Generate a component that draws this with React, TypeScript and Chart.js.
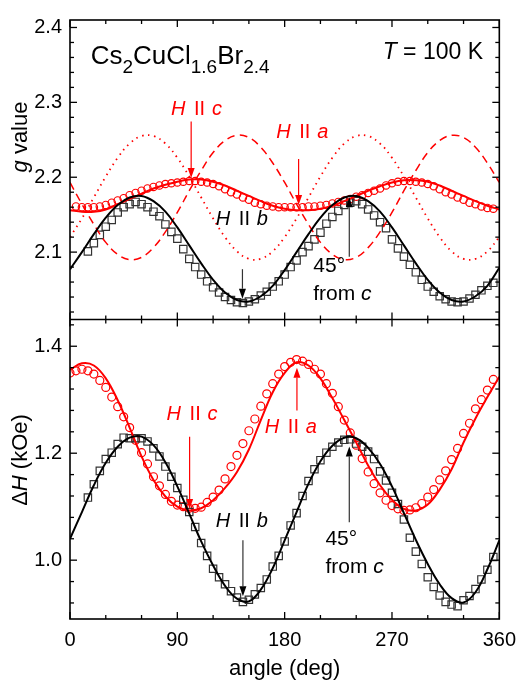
import React, { useEffect, useRef } from 'react';
import { Chart, registerables } from 'chart.js';

Chart.register(...registerables);

const FONT = "'Liberation Sans', Arial, sans-serif";

// ---------- angles (deg) ----------
const lineAngles = [0, 10, 20, 30, 40, 50, 60, 70, 80, 90, 100, 110, 120, 130, 140, 150, 160, 170, 180,
  190, 200, 210, 220, 230, 240, 250, 260, 270, 280, 290, 300, 310, 320, 330, 340, 350, 360];

const squareAngles = [15, 20, 25, 30, 35, 40, 45, 50, 55, 60, 65, 70, 75, 80, 85, 90, 95, 100,
  105, 110, 115, 120, 125, 130, 135, 140, 145, 150, 155, 160, 165, 170, 175, 180, 185, 190, 195, 200,
  205, 210, 215, 220, 225, 230, 235, 240, 245, 250, 255, 260, 265, 270, 275, 280, 285, 290, 295, 300,
  305, 310, 315, 320, 325, 330, 335, 340, 345, 350, 355];

const circleAnglesTop = [5, 10, 15, 20, 25, 30, 35, 40, 45, 50, 55, 60, 65, 70, 75, 80, 85, 90, 95, 100, 105,
  110, 115, 120, 125, 130, 135, 140, 145, 150, 155, 160, 165, 170, 175, 180, 185, 190, 195, 200, 205,
  210, 215, 220, 225, 230, 235, 240, 245, 250, 255, 260, 265, 270, 275, 280, 285, 290, 295, 300, 305,
  310, 315, 320, 325, 330, 335, 340, 345, 350, 355];

const circleAnglesBottom = [0, 5, 10, 15, 20, 25, 30, 35, 40, 45, 50, 55, 60, 65, 70, 75, 80, 85, 90, 95, 100, 105,
  110, 115, 120, 125, 130, 135, 140, 145, 150, 155, 160, 165, 170, 175, 180, 185, 190, 195, 200, 205,
  210, 215, 220, 225, 230, 235, 240, 245, 250, 255, 260, 265, 270, 275, 280, 285, 290, 295, 300, 305,
  310, 315, 320, 325, 330, 335, 340, 345, 350, 355];

// ---------- g value panel ----------
const gLineBlack = [2.077, 2.100, 2.124, 2.146, 2.163, 2.173, 2.175, 2.168, 2.154, 2.133, 2.109, 2.085,
  2.063, 2.046, 2.036, 2.034, 2.041, 2.055, 2.076, 2.100, 2.124, 2.146, 2.163, 2.173, 2.175, 2.168,
  2.154, 2.133, 2.109, 2.085, 2.063, 2.046, 2.036, 2.034, 2.041, 2.055, 2.079];

const gLineRed = [2.156, 2.154, 2.154, 2.157, 2.164, 2.171, 2.178, 2.185, 2.190, 2.194, 2.197, 2.197,
  2.194, 2.189, 2.182, 2.175, 2.168, 2.162, 2.158, 2.156, 2.156, 2.158, 2.162, 2.168, 2.175, 2.182,
  2.188, 2.193, 2.196, 2.196, 2.194, 2.189, 2.182, 2.175, 2.168, 2.162, 2.157];

const gDashedRed = [2.193, 2.164, 2.137, 2.113, 2.097, 2.090, 2.093, 2.106, 2.127, 2.153, 2.182, 2.209,
  2.233, 2.249, 2.256, 2.253, 2.240, 2.219, 2.193, 2.164, 2.137, 2.113, 2.097, 2.090, 2.093, 2.106,
  2.127, 2.153, 2.182, 2.209, 2.233, 2.249, 2.256, 2.253, 2.240, 2.219, 2.193];

const gDottedRed = [2.120, 2.145, 2.173, 2.201, 2.226, 2.245, 2.255, 2.255, 2.245, 2.226, 2.201, 2.173,
  2.145, 2.120, 2.101, 2.091, 2.091, 2.101, 2.120, 2.145, 2.173, 2.201, 2.226, 2.245, 2.255, 2.255,
  2.245, 2.226, 2.201, 2.173, 2.145, 2.120, 2.101, 2.091, 2.091, 2.101, 2.120];

const gSquares = [2.101, 2.112, 2.123, 2.134, 2.143, 2.153, 2.160, 2.164, 2.167, 2.164, 2.160, 2.154,
  2.148, 2.137, 2.127, 2.118, 2.104, 2.091,
  2.080, 2.070, 2.061, 2.053, 2.046, 2.040, 2.036, 2.033, 2.032, 2.034, 2.037, 2.042, 2.047, 2.054,
  2.061, 2.070, 2.080, 2.089, 2.100, 2.108,
  2.117, 2.126, 2.138, 2.147, 2.155, 2.163, 2.166, 2.168, 2.164, 2.157, 2.149, 2.140, 2.132, 2.117,
  2.105, 2.094, 2.083, 2.073, 2.063, 2.054,
  2.047, 2.041, 2.037, 2.034, 2.033, 2.034, 2.038, 2.043, 2.049, 2.055, 2.059];

const gCircles = [2.161, 2.160, 2.160, 2.160, 2.161, 2.163, 2.166, 2.169, 2.172, 2.176, 2.179, 2.182,
  2.185, 2.187, 2.189, 2.191, 2.192, 2.193, 2.194, 2.195, 2.195,
  2.194, 2.193, 2.191, 2.188, 2.184, 2.180, 2.177, 2.173, 2.170, 2.166, 2.164, 2.162, 2.161, 2.160,
  2.160, 2.160, 2.160, 2.160, 2.161, 2.161,
  2.162, 2.163, 2.165, 2.167, 2.169, 2.171, 2.174, 2.176, 2.179, 2.182, 2.185, 2.189, 2.192, 2.194,
  2.195, 2.195, 2.194, 2.193, 2.191, 2.188,
  2.184, 2.180, 2.177, 2.173, 2.170, 2.166, 2.164, 2.161, 2.159, 2.158];

// ---------- linewidth panel (kOe) ----------
const dHLineBlack = [1.040, 1.090, 1.140, 1.182, 1.212, 1.229, 1.231, 1.215, 1.183, 1.138, 1.087, 1.035,
  0.990, 0.952, 0.928, 0.923, 0.945, 0.985, 1.037, 1.090, 1.143, 1.185, 1.214, 1.229, 1.228, 1.210,
  1.180, 1.138, 1.088, 1.038, 0.993, 0.955, 0.929, 0.921, 0.940, 0.983, 1.037];

const dHLineRed = [1.356, 1.368, 1.364, 1.340, 1.299, 1.248, 1.194, 1.150, 1.119, 1.100, 1.093, 1.097,
  1.112, 1.135, 1.165, 1.207, 1.262, 1.314, 1.350, 1.370, 1.364, 1.340, 1.303, 1.262, 1.220, 1.177,
  1.140, 1.113, 1.096, 1.093, 1.104, 1.132, 1.170, 1.220, 1.265, 1.305, 1.343];

const dHSquares = [1.117, 1.142, 1.167, 1.189, 1.201, 1.217, 1.229, 1.228, 1.228, 1.228, 1.222, 1.209,
  1.194, 1.175, 1.156, 1.135, 1.113, 1.090,
  1.062, 1.032, 1.008, 0.984, 0.968, 0.955, 0.942, 0.930, 0.922, 0.926, 0.936, 0.948, 0.964, 0.988,
  1.008, 1.035, 1.065, 1.088, 1.120, 1.148,
  1.170, 1.187, 1.201, 1.212, 1.220, 1.225, 1.226, 1.218, 1.212, 1.203, 1.189, 1.166, 1.149, 1.126,
  1.105, 1.076, 1.042, 1.016, 0.993, 0.968,
  0.950, 0.934, 0.922, 0.917, 0.914, 0.925, 0.933, 0.946, 0.964, 0.982, 1.006];

const dHCircles = [1.350, 1.354, 1.357, 1.354, 1.348, 1.336, 1.323, 1.305, 1.287, 1.268, 1.248, 1.224,
  1.201, 1.180, 1.156, 1.139, 1.123, 1.110, 1.103, 1.100, 1.097, 1.097,
  1.099, 1.108, 1.118, 1.131, 1.152, 1.175, 1.196, 1.218, 1.242, 1.264, 1.288, 1.311, 1.330, 1.348,
  1.362, 1.370, 1.375, 1.372, 1.366, 1.357,
  1.348, 1.330, 1.312, 1.287, 1.262, 1.238, 1.215, 1.190, 1.165, 1.143, 1.126, 1.112, 1.102, 1.096,
  1.093, 1.094, 1.098, 1.106, 1.118, 1.132,
  1.150, 1.167, 1.188, 1.209, 1.237, 1.256, 1.283, 1.300, 1.318, 1.338];

// ---------- ticks ----------
const xTickLabels = [0, 90, 180, 270, 360];
const gTickLabels = [2.1, 2.2, 2.3, 2.4];
const dHTickLabels = [1.0, 1.2, 1.4];

const RED = '#ff0000';
const BLACK = '#000000';

const pts = (xs: number[], ys: number[]) => xs.map((x, i) => ({ x, y: ys[i] }));

type Run = { t: string; it?: boolean; size: number; dy?: number; at?: number };

function drawRuns(ctx: CanvasRenderingContext2D, x: number, y: number, runs: Run[], color: string) {
  let cx = x;
  ctx.fillStyle = color;
  ctx.textBaseline = 'alphabetic';
  ctx.textAlign = 'left';
  for (const r of runs) {
    ctx.font = `${r.it ? 'italic ' : ''}${r.size}px ${FONT}`;
    if (r.at !== undefined) cx = x + r.at;
    ctx.fillText(r.t, cx, y + (r.dy || 0));
    cx += ctx.measureText(r.t).width;
  }
}

function runsWidth(ctx: CanvasRenderingContext2D, runs: Run[]) {
  let w = 0;
  for (const r of runs) {
    ctx.font = `${r.it ? 'italic ' : ''}${r.size}px ${FONT}`;
    w += ctx.measureText(r.t).width;
  }
  return w;
}

function arrow(ctx: CanvasRenderingContext2D, x: number, y1: number, y2: number, color: string, head: string) {
  const dir = Math.sign(y2 - y1);
  const hl = 10, hw = 3.5;
  ctx.strokeStyle = color;
  ctx.lineWidth = 1.2;
  ctx.beginPath();
  ctx.moveTo(x, y1);
  ctx.lineTo(x, y2 - dir * hl);
  ctx.stroke();
  ctx.fillStyle = head;
  ctx.beginPath();
  ctx.moveTo(x, y2);
  ctx.lineTo(x - hw, y2 - dir * hl);
  ctx.lineTo(x + hw, y2 - dir * hl);
  ctx.closePath();
  ctx.fill();
}

const hLabel = (axis: string): Run[] => [
  { t: 'H', it: true, size: 20, at: 0 },
  { t: 'II', size: 20, at: 23 },
  { t: axis, it: true, size: 20, at: 41 },
];

const framePlugin = {
  id: 'frameAndNotes',
  afterDraw(chart: any) {
    const ctx: CanvasRenderingContext2D = chart.ctx;
    const xs = chart.scales.x;
    const yt = chart.scales.yTop;
    const yb = chart.scales.yBot;
    const L = chart.chartArea.left;
    const R = chart.chartArea.right;
    const T = yt.top;
    const M = yt.bottom;
    const B = yb.bottom;
    ctx.save();

    const seg = (x1: number, y1: number, x2: number, y2: number) => {
      ctx.beginPath();
      ctx.moveTo(x1, y1);
      ctx.lineTo(x2, y2);
      ctx.stroke();
    };

    // ticks
    ctx.strokeStyle = BLACK;
    ctx.lineWidth = 1.3;
    for (let a = 0; a <= 360; a += 30) {
      const px = xs.getPixelForValue(a);
      const len = a % 90 === 0 ? 7 : 4;
      seg(px, T, px, T + len);
      seg(px, M, px, M - len);
      seg(px, M, px, M + len);
      seg(px, B, px, B - len);
    }
    for (let k = 101; k <= 120; k++) {
      const py = yt.getPixelForValue(k * 0.02);
      const len = k % 5 === 0 ? 7 : 4;
      seg(L, py, L + len, py);
      seg(R, py, R - len, py);
    }
    for (let k = 23; k <= 36; k++) {
      const py = yb.getPixelForValue(k * 0.04);
      const len = k % 5 === 0 ? 7 : 4;
      seg(L, py, L + len, py);
      seg(R, py, R - len, py);
    }

    // frame
    ctx.lineWidth = 1.6;
    ctx.strokeRect(L, T, R - L, B - T);
    seg(L, M, R, M);

    const X = (v: number) => xs.getPixelForValue(v);
    const G = (v: number) => yt.getPixelForValue(v);
    const D = (v: number) => yb.getPixelForValue(v);

    // y-axis titles
    const gTitle: Run[] = [{ t: 'g', it: true, size: 22 }, { t: ' value', size: 22 }];
    const dTitle: Run[] = [{ t: '\u0394', size: 22 }, { t: 'H', it: true, size: 22 }, { t: ' (kOe)', size: 22 }];
    ctx.save();
    ctx.translate(27, 137);
    ctx.rotate(-Math.PI / 2);
    drawRuns(ctx, -runsWidth(ctx, gTitle) / 2, 0, gTitle, BLACK);
    ctx.restore();
    ctx.save();
    ctx.translate(27, 460);
    ctx.rotate(-Math.PI / 2);
    drawRuns(ctx, -runsWidth(ctx, dTitle) / 2, 0, dTitle, BLACK);
    ctx.restore();

    // top panel annotations
    drawRuns(ctx, X(17.3), G(2.351), [
      { t: 'Cs', size: 26 }, { t: '2', size: 19, dy: 9 }, { t: 'CuCl', size: 26 },
      { t: '1.6', size: 19, dy: 9 }, { t: 'Br', size: 26 }, { t: '2.4', size: 19, dy: 9 },
    ], BLACK);
    drawRuns(ctx, X(262.2), G(2.358), [{ t: 'T', it: true, size: 23 }, { t: ' = 100 K', size: 23 }], BLACK);

    drawRuns(ctx, X(84.6), G(2.2834), hLabel('c'), RED);
    arrow(ctx, X(101.6), G(2.2746), G(2.199), RED, RED);
    drawRuns(ctx, X(173), G(2.2526), hLabel('a'), RED);
    arrow(ctx, X(191.7), G(2.2242), G(2.1628), RED, RED);
    drawRuns(ctx, X(122.3), G(2.1364), hLabel('b'), BLACK);
    arrow(ctx, X(144.6), G(2.0772), G(2.0378), '#333333', BLACK);
    drawRuns(ctx, X(204), G(2.0729), [{ t: '45\u00b0', size: 21 }], BLACK);
    drawRuns(ctx, X(204), G(2.0355), [{ t: 'from ', size: 21 }, { t: 'c', it: true, size: 21 }], BLACK);
    arrow(ctx, X(234.2), G(2.0937), G(2.1733), '#333333', BLACK);

    // bottom panel annotations
    drawRuns(ctx, X(81), D(1.2616), hLabel('c'), RED);
    arrow(ctx, X(100.3), D(1.2308), D(1.0957), RED, RED);
    drawRuns(ctx, X(163.4), D(1.2369), hLabel('a'), RED);
    arrow(ctx, X(190.3), D(1.28), D(1.3598), RED, RED);
    drawRuns(ctx, X(122.2), D(1.0618), hLabel('b'), BLACK);
    arrow(ctx, X(145), D(1.0372), D(0.9327), '#333333', BLACK);
    drawRuns(ctx, X(214.2), D(1.028), [{ t: '45\u00b0', size: 21 }], BLACK);
    drawRuns(ctx, X(214.2), D(0.9759), [{ t: 'from ', size: 21 }, { t: 'c', it: true, size: 21 }], BLACK);
    arrow(ctx, X(234.2), D(1.071), D(1.2124), '#333333', BLACK);

    ctx.restore();
  },
};

const lineDs = (label: string, xs: number[], ys: number[], axis: string, color: string, width: number, dash: number[] = []) => ({
  label,
  data: pts(xs, ys),
  yAxisID: axis,
  borderColor: color,
  backgroundColor: color,
  borderWidth: width,
  borderDash: dash,
  pointRadius: 0,
  tension: 0.4,
  fill: false,
});

const markerDs = (label: string, xs: number[], ys: number[], axis: string, color: string, style: string, radius: number) => ({
  label,
  data: pts(xs, ys),
  yAxisID: axis,
  showLine: false,
  borderColor: color,
  backgroundColor: 'rgba(0,0,0,0)',
  pointStyle: style,
  pointRadius: radius,
  pointBorderWidth: 1.2,
  pointBorderColor: color,
  pointBackgroundColor: 'rgba(0,0,0,0)',
});

export default function App() {
  const ref = useRef<HTMLCanvasElement | null>(null);

  useEffect(() => {
    document.body.style.margin = '0';
    const canvas = ref.current;
    if (!canvas) return;

    const yCommon = (min: number, max: number, labels: number[]) => ({
      type: 'linear',
      position: 'left',
      stack: 'panels',
      stackWeight: 1,
      min,
      max,
      grid: { display: false, drawTicks: false },
      border: { display: false },
      afterBuildTicks: (s: any) => {
        s.ticks = labels.map((v) => ({ value: v }));
      },
      afterFit: (s: any) => {
        s.width = 70;
      },
      ticks: {
        padding: 8,
        color: BLACK,
        font: { family: FONT, size: 20 },
        callback: (v: any) => Number(v).toFixed(1),
      },
    });

    const chart = new Chart(canvas, {
      type: 'line',
      data: {
        datasets: [
          lineDs('g fit b', lineAngles, gLineBlack, 'yTop', BLACK, 2),
          lineDs('g fit a', lineAngles, gLineRed, 'yTop', RED, 2),
          lineDs('g site 1', lineAngles, gDashedRed, 'yTop', RED, 1.5, [8, 5]),
          lineDs('g site 2', lineAngles, gDottedRed, 'yTop', RED, 1.8, [1.5, 4.5]),
          markerDs('g b-plane', squareAngles, gSquares, 'yTop', '#333333', 'rect', 5.2),
          markerDs('g a-plane', circleAnglesTop, gCircles, 'yTop', RED, 'circle', 3.7),
          lineDs('dH fit b', lineAngles, dHLineBlack, 'yBot', BLACK, 2),
          lineDs('dH fit a', lineAngles, dHLineRed, 'yBot', RED, 2),
          markerDs('dH b-plane', squareAngles, dHSquares, 'yBot', '#333333', 'rect', 5.2),
          markerDs('dH a-plane', circleAnglesBottom, dHCircles, 'yBot', RED, 'circle', 4),
        ] as any,
      },
      options: {
        responsive: false,
        animation: false,
        devicePixelRatio: 1,
        layout: { padding: { top: 13, right: 18, left: 0, bottom: 0 } },
        plugins: {
          legend: { display: false },
          tooltip: { enabled: false },
        },
        scales: {
          yBot: yCommon(0.89, 1.45, dHTickLabels),
          yTop: yCommon(2.01, 2.41, gTickLabels),
          x: {
            type: 'linear',
            position: 'bottom',
            min: 0,
            max: 360,
            grid: { display: false, drawTicks: false },
            border: { display: false },
            afterBuildTicks: (s: any) => {
              s.ticks = xTickLabels.map((v) => ({ value: v }));
            },
            afterFit: (s: any) => {
              s.height = 64;
            },
            ticks: {
              padding: 9,
              color: BLACK,
              maxRotation: 0,
              font: { family: FONT, size: 20 },
            },
            title: {
              display: true,
              text: 'angle (deg)',
              color: BLACK,
              font: { family: FONT, size: 22 },
              padding: { top: 0, bottom: 1 },
            },
          },
        } as any,
      },
      plugins: [framePlugin],
    });

    return () => chart.destroy();
  }, []);

  return <canvas ref={ref} width={525} height={683} style={{ display: 'block' }} />;
}
